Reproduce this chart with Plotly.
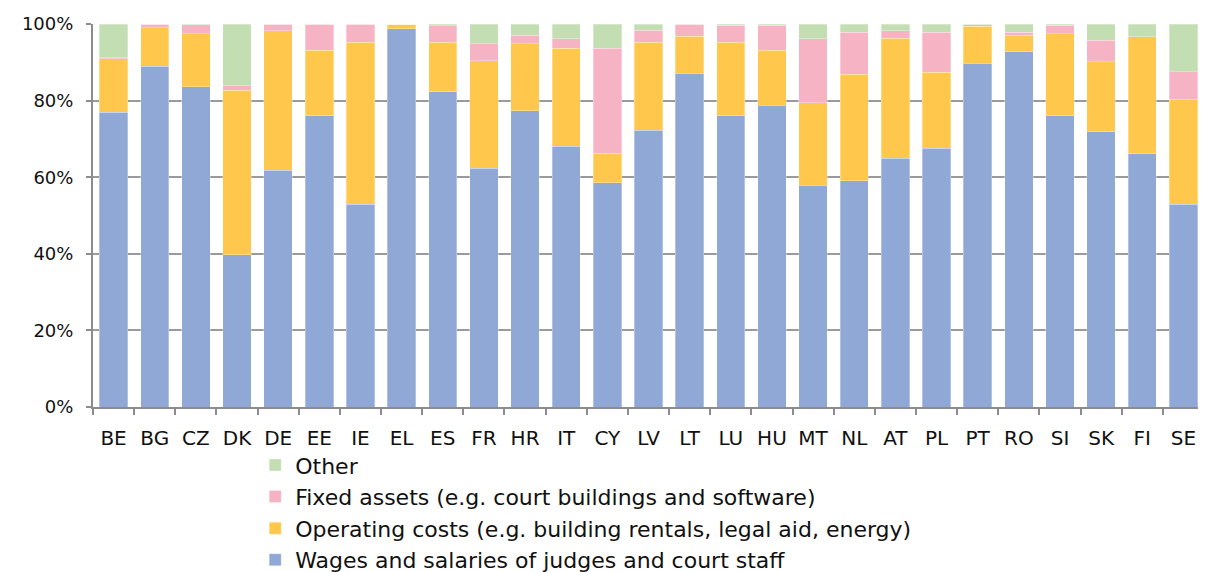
import plotly.graph_objects as go

countries = ["BE","BG","CZ","DK","DE","EE","IE","EL","ES","FR","HR","IT","CY","LV","LT",
             "LU","HU","MT","NL","AT","PL","PT","RO","SI","SK","FI","SE"]

wages = [77.0, 89.0, 83.6, 39.8, 61.8, 76.1, 52.9, 98.7, 82.3, 62.4, 77.3, 68.1, 58.5, 72.3, 87.1,
         76.1, 78.8, 57.9, 59.1, 64.9, 67.5, 89.8, 92.8, 76.1, 71.9, 66.1, 52.9]
operating = [13.9, 10.0, 13.9, 42.9, 36.4, 17.0, 42.3, 1.3, 12.9, 28.0, 17.6, 25.6, 7.8, 22.9, 9.7,
             19.1, 14.3, 21.5, 27.8, 31.4, 19.9, 9.6, 4.2, 21.4, 18.2, 30.6, 27.4]
fixed = [0.3, 1.0, 2.3, 1.2, 1.8, 6.9, 4.8, 0.0, 4.4, 4.5, 2.1, 2.4, 27.4, 3.2, 3.2,
         4.5, 6.6, 16.7, 10.9, 1.9, 10.4, 0.4, 0.8, 2.2, 5.7, 0.0, 7.2]
other = [8.8, 0.0, 0.2, 16.1, 0.0, 0.0, 0.0, 0.0, 0.4, 5.1, 3.0, 3.9, 6.3, 1.6, 0.0,
         0.3, 0.3, 3.9, 2.2, 1.8, 2.2, 0.2, 2.2, 0.3, 4.2, 3.3, 12.5]

series = [
    ("Wages and salaries of judges and court staff", wages, "#8FA8D5"),
    ("Operating costs (e.g. building rentals, legal aid, energy)", operating, "#FFC84C"),
    ("Fixed assets (e.g. court buildings and software)", fixed, "#F5B3C4"),
    ("Other", other, "#C4DEB4"),
]

FONT = "DejaVu Sans"

fig = go.Figure()
for name, vals, col in series:
    fig.add_trace(go.Bar(
        x=countries, y=vals, name=name,
        marker=dict(color=col, line=dict(color="rgba(255,255,255,0.6)", width=0.5)),
    ))

# page body has an 8px default margin, so the figure is sized to the visible area
fig.update_layout(
    barmode="stack",
    bargap=0.31,
    width=1198, height=564,
    margin=dict(l=85, r=2, t=16, b=165, autoexpand=False),
    plot_bgcolor="white", paper_bgcolor="white",
    font=dict(family=FONT, color="#111111"),
    legend=dict(
        orientation="v", traceorder="reversed",
        x=0.146, xanchor="left", y=-0.097, yanchor="top",
        font=dict(size=22, family=FONT, color="#111111"),
        tracegroupgap=0, itemwidth=30,
        bgcolor="rgba(0,0,0,0)",
    ),
    xaxis=dict(
        type="category", automargin=False,
        showline=True, linecolor="#8c8c8c", linewidth=2,
        ticks="outside", tickson="boundaries", ticklen=6, tickcolor="#8c8c8c", tickwidth=1.5,
        tickfont=dict(size=20, family=FONT, color="#111111"),
        ticklabelstandoff=12,
        showgrid=False,
    ),
    yaxis=dict(
        range=[0, 100], dtick=20, automargin=False,
        ticksuffix="%",
        showgrid=True, gridcolor="#9a9a9a", gridwidth=1.5,
        showline=True, linecolor="#8c8c8c", linewidth=2,
        ticks="outside", ticklen=5, tickcolor="#8c8c8c", tickwidth=1.5,
        tickfont=dict(size=18, family=FONT, color="#111111"),
        ticklabelstandoff=9,
        zeroline=False,
    ),
)

fig.write_html("out.html")
